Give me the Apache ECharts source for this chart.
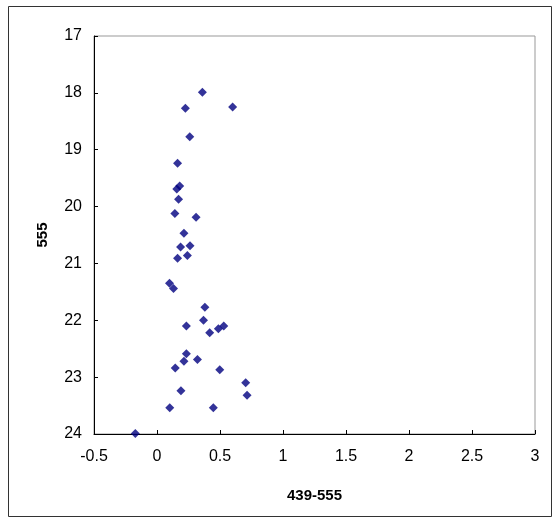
<!DOCTYPE html>
<html><head><meta charset="utf-8">
<script src="https://cdn.jsdelivr.net/npm/echarts@6/dist/echarts.min.js"></script>
<style>html,body{margin:0;padding:0;background:#fff}#c{width:560px;height:521px}</style>
</head><body><div id="c"></div>
<script>
const xValues = [0.36,0.225,0.60,0.26,0.163,0.18,0.157,0.171,0.142,0.31,0.214,0.187,0.262,0.163,0.241,0.099,0.131,0.38,0.369,0.233,0.418,0.487,0.53,0.233,0.214,0.321,0.145,0.498,0.704,0.715,0.19,0.101,0.447,-0.172];
const yValues = [17.99,18.27,18.25,18.77,19.24,19.64,19.69,19.87,20.12,20.19,20.47,20.71,20.69,20.91,20.86,21.35,21.44,21.77,22.0,22.1,22.22,22.15,22.1,22.59,22.72,22.69,22.84,22.87,23.10,23.32,23.24,23.54,23.54,23.99];
const xAxisTitle = '439-555';
const yAxisTitle = '555';

const points = xValues.map((x,i)=>[x, yValues[i]]);
const chart = echarts.init(document.getElementById('c'), null, {renderer:'canvas'});
const font = 'Liberation Sans, Arial, sans-serif';
chart.setOption({
  animation:false,
  backgroundColor:'#fff',
  graphic:[{type:'rect', shape:{x:8.5,y:6.5,width:543,height:510}, style:{fill:'none',stroke:'#333',lineWidth:1}, silent:true}],
  grid:{left:94, top:36, right:25, bottom:87, show:true, borderColor:'#999', borderWidth:1},
  xAxis:{type:'value', min:-0.5, max:3, interval:0.5,
    name:xAxisTitle, nameLocation:'middle', nameGap:54,
    nameTextStyle:{fontFamily:font, fontWeight:'bold', fontSize:15, color:'#000'},
    axisLine:{show:true, onZero:false, lineStyle:{color:'#000', width:1}},
    axisTick:{show:true, inside:true, length:4, lineStyle:{color:'#000'}},
    axisLabel:{fontFamily:font, fontSize:16, color:'#000', margin:15},
    splitLine:{show:false}},
  yAxis:{type:'value', inverse:true, min:17, max:24, interval:1,
    name:yAxisTitle, nameLocation:'middle', nameGap:44, nameRotate:90,
    nameTextStyle:{fontFamily:font, fontWeight:'bold', fontSize:15, color:'#000'},
    axisLine:{show:true, onZero:false, lineStyle:{color:'#000', width:1}},
    axisTick:{show:true, inside:true, length:4, lineStyle:{color:'#000'}},
    axisLabel:{fontFamily:font, fontSize:16, color:'#000', margin:12},
    splitLine:{show:false}},
  series:[{type:'scatter', data:points, symbol:'diamond', symbolSize:9,
    itemStyle:{color:'#000080'}}]
});
</script></body></html>
